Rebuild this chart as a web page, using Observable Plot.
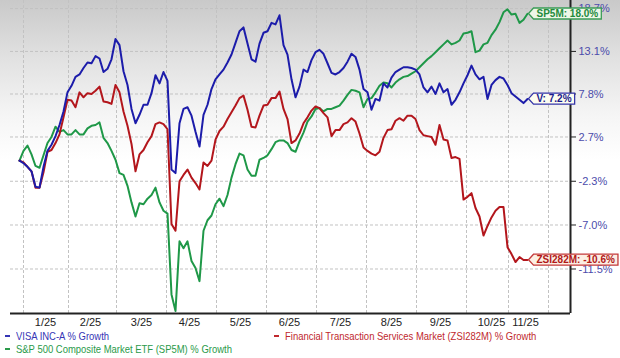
<!DOCTYPE html>
<html><head><meta charset="utf-8">
<script src="https://cdn.jsdelivr.net/npm/d3@7"></script>
<script src="https://cdn.jsdelivr.net/npm/@observablehq/plot@0.6"></script>
<style>
html,body{margin:0;padding:0;}
body{width:620px;height:358px;overflow:hidden;background:linear-gradient(to bottom,#c9c9c9 0px,#e0e0e0 55px,#f5f5f5 115px,#ffffff 160px);font-family:"Liberation Sans",Arial,sans-serif;}
#chart svg{display:block;}
#chart [aria-label="y-axis tick label"] text, #chart [aria-label="y-axis"] text{fill:#4b4bab;}
#legend{position:relative;height:30px;font-family:"Liberation Sans",Arial,sans-serif;font-size:11px;}
.item{position:absolute;white-space:nowrap;line-height:13px;}
.item i{display:inline-block;width:5px;height:2px;vertical-align:middle;margin-right:6px;position:relative;top:-1px;}
.item span{display:inline-block;transform:scaleX(0.86);transform-origin:0 50%;}
</style></head>
<body><div id="chart"></div><div id="legend"></div>
<script>
// Series values (% growth), sampled at equal steps through the period
const visa = [0.0,-0.3,-0.7,-1.2,-2.9,-3.0,-0.7,1.1,1.8,2.8,
4.1,5.7,8.0,8.8,9.9,10.2,11.0,11.7,11.6,12.5,
12.2,10.5,10.9,12.1,14.7,13.9,10.6,8.9,6.0,4.3,
5.3,6.5,6.5,7.9,10.1,9.1,10.5,9.4,-1.0,-1.4,
4.3,6.0,6.2,5.2,3.3,1.6,5.3,6.5,8.4,9.6,
10.2,10.8,11.7,12.7,14.2,15.7,16.2,14.1,12.1,11.8,
14.1,15.5,15.7,16.8,16.6,17.8,13.9,12.7,9.6,7.4,
8.7,10.8,10.5,12.0,13.0,13.3,12.8,11.6,10.4,10.2,
10.5,11.0,11.8,12.8,12.4,10.8,8.4,8.0,5.9,7.2,
7.0,9.1,8.6,9.8,10.5,10.8,11.1,11.1,11.0,10.8,
10.2,8.6,8.0,8.7,7.8,9.1,8.0,8.4,6.5,7.1,
8.0,9.1,10.1,11.3,10.2,9.6,9.9,7.2,8.9,9.5,
9.9,9.7,8.9,7.9,7.5,7.1,6.7,7.2];
const zsi = [0.0,-0.2,-0.7,-1.2,-3.0,-3.0,-1.3,1.0,1.2,2.0,
3.0,5.0,7.1,7.0,6.2,8.0,7.4,7.9,7.8,8.2,
8.7,6.9,6.8,6.6,8.9,8.0,5.7,4.0,1.9,-1.2,
0.7,1.2,2.1,2.8,4.2,4.4,4.2,3.6,-6.9,-7.6,
-2.3,-1.6,-1.0,-1.9,-2.5,-3.2,-0.2,-0.6,0.0,2.4,
3.4,3.9,4.8,5.6,6.4,7.3,7.6,5.9,3.9,3.8,
5.2,6.4,6.5,7.3,7.3,8.1,6.0,4.8,2.0,2.3,
3.1,4.3,5.0,5.8,6.3,6.1,5.5,5.0,2.8,3.5,
3.5,4.2,4.4,4.9,4.5,3.1,1.5,1.1,0.8,0.6,
1.0,2.6,3.5,3.6,4.6,4.9,4.6,5.2,5.2,4.8,
3.5,2.9,2.8,2.7,1.8,4.1,2.4,2.3,0.3,0.4,
0.2,-4.3,-4.0,-3.6,-5.2,-6.1,-8.1,-7.1,-6.2,-5.5,
-5.1,-5.1,-9.3,-10.0,-10.8,-10.3,-10.6,-10.6];
const sp5m = [0.0,1.1,1.7,0.7,-0.6,-0.8,0.6,2.0,2.7,3.9,
3.3,3.5,3.0,3.0,3.5,3.0,3.0,3.7,4.0,4.1,
4.4,2.6,2.0,1.1,0.1,-1.4,-1.6,-2.8,-4.6,-6.1,
-4.7,-4.8,-4.2,-3.8,-3.0,-4.6,-5.5,-5.8,-14.0,-15.6,
-8.7,-9.4,-8.7,-10.7,-11.4,-12.7,-7.6,-6.5,-6.0,-4.8,
-4.2,-5.0,-3.8,-1.9,-0.4,0.8,0.6,-1.0,-1.7,-1.7,
0.1,0.3,0.6,1.3,2.1,2.3,2.3,2.0,1.2,1.0,
2.2,3.2,4.5,5.1,6.0,6.1,5.7,6.0,6.0,6.2,
6.4,7.0,7.7,8.3,8.2,8.0,6.2,7.2,7.3,8.0,
8.8,9.2,9.1,8.6,9.2,9.6,9.9,10.0,10.3,10.6,
11.1,11.6,12.1,12.5,13.0,13.5,14.0,14.5,14.0,14.2,
14.5,15.4,15.5,15.7,13.0,13.2,14.0,14.2,15.2,15.9,
16.9,18.2,18.6,17.9,18.0,16.8,17.2,18.0];

const seriesNames = ["VISA INC-A % Growth","Financial Transaction Services Market (ZSI282M) % Growth","S&P 500 Composite Market ETF (SP5M) % Growth"];
const endTags = ["V", "ZSI282M", "SP5M"];

const yTicks = [18.7, 13.1, 7.8, 2.7, -2.3, -7.0, -11.5];
const xLabels = ["1/25","2/25","3/25","4/25","5/25","6/25","7/25","8/25","9/25","10/25","11/25"];
const xLabelPos = [6.5,17.75,30.5,42.5,55.25,67.5,80.25,93,105.25,118,126.5];
const xGridPos = [1,12.25,24.25,36.75,49.25,61.75,74.25,86.75,99.25,111.75,122.25,132.25];
const xDomain = [-2.25, 137.75];
const yDomain = [84.17, 119.78]; // index level (100 + % growth), log scale

const colors = {visa:"#1c1caa", zsi:"#b3161c", sp5m:"#1f9848"};
const tagStyle = {
  V: {text:"#1a1a8c", fill:"#fdfdf0", stroke:"#3535a8"},
  ZSI282M: {text:"#b01818", fill:"#fcefe4", stroke:"#c43a3a"},
  SP5M: {text:"#238a3c", fill:"#eef7e8", stroke:"#3a9c55"}
};

const toRows = (arr) => arr.map((v, i) => ({i, v}));
const rows = {visa: toRows(visa), zsi: toRows(zsi), sp5m: toRows(sp5m)};
const lbl = new Map(xLabelPos.map((p, k) => [p, xLabels[k]]));
const yv = d => 100 + d.v;

function endMark(arr, tag) {
  const last = [{i: arr.length - 1, v: arr[arr.length - 1]}];
  return Plot.text(last, {x: "i", y: yv, text: d => `${tag}: ${d.v.toFixed(1)}%`, dx: 9, textAnchor: "start",
    fill: tagStyle[tag].text, fontSize: 10, fontWeight: "bold"});
}

const chart = Plot.plot({
  width: 620, height: 328,
  marginTop: 0, marginBottom: 15, marginLeft: 10, marginRight: 50,
  style: {background: "transparent", fontFamily: "Liberation Sans, Arial, sans-serif", fontSize: "11px", color: "#222", overflow: "visible"},
  x: {domain: xDomain, ticks: xLabelPos, tickFormat: d => lbl.get(d), tickSize: 0, tickPadding: 5, label: null},
  y: {type: "log", domain: yDomain, ticks: yTicks.map(t => 100 + t), tickFormat: d => (d - 100).toFixed(1) + "%", axis: "right", tickSize: 5, tickPadding: 3, label: null},
  marks: [
    Plot.ruleY(yTicks, {y: t => 100 + t, stroke: "#c2c2c2", strokeDasharray: "3,2"}),
    Plot.ruleX(xGridPos, {x: d => d, stroke: "#c2c2c2", strokeDasharray: "3,2"}),
    Plot.line(rows.sp5m, {x: "i", y: yv, stroke: colors.sp5m, strokeWidth: 2}),
    Plot.line(rows.zsi, {x: "i", y: yv, stroke: colors.zsi, strokeWidth: 2}),
    Plot.line(rows.visa, {x: "i", y: yv, stroke: colors.visa, strokeWidth: 2}),
    Plot.ruleY([yDomain[0]], {stroke: "#222", strokeWidth: 2}),
    Plot.ruleX([xDomain[1]], {stroke: "#222", strokeWidth: 2}),
    endMark(sp5m, "SP5M"),
    endMark(visa, "V"),
    endMark(zsi, "ZSI282M")
  ]
});
document.getElementById("chart").append(chart);

// tag boxes behind end labels
const svgNode = chart.tagName.toLowerCase() === "svg" ? chart : chart.querySelector("svg");
svgNode.querySelectorAll("text").forEach(node => {
  const txt = node.textContent || "";
  const tag = endTags.find(t => txt.startsWith(t + ":"));
  if (!tag) return;
  const b = node.getBBox();
  const x0 = b.x - 3, x1 = b.x + b.width + 3, y0 = b.y, y1 = b.y + b.height, ym = (y0 + y1) / 2;
  const tip = x0 - 5;
  const p = document.createElementNS("http://www.w3.org/2000/svg", "path");
  p.setAttribute("d", `M${tip},${ym}L${x0},${y0}H${x1}V${y1}H${x0}Z`);
  const tr = node.getAttribute("transform");
  if (tr) p.setAttribute("transform", tr);
  p.setAttribute("fill", tagStyle[tag].fill);
  p.setAttribute("stroke", tagStyle[tag].stroke);
  p.setAttribute("stroke-width", "1.3");
  node.parentNode.insertBefore(p, node);
});

// legend
const legend = d3.select("#legend");
const legendItems = [
  {name: seriesNames[0], color: "#3535b5", left: 5, top: 1.5},
  {name: seriesNames[1], color: "#c0282d", left: 274, top: 1.5},
  {name: seriesNames[2], color: "#2a9a4a", left: 5, top: 14.5}
];
legendItems.forEach(it => {
  const s = legend.append("div").attr("class", "item").style("left", it.left + "px").style("top", it.top + "px").style("color", it.color);
  s.append("i").style("background", it.color);
  s.append("span").text(it.name);
});
</script></body></html>
